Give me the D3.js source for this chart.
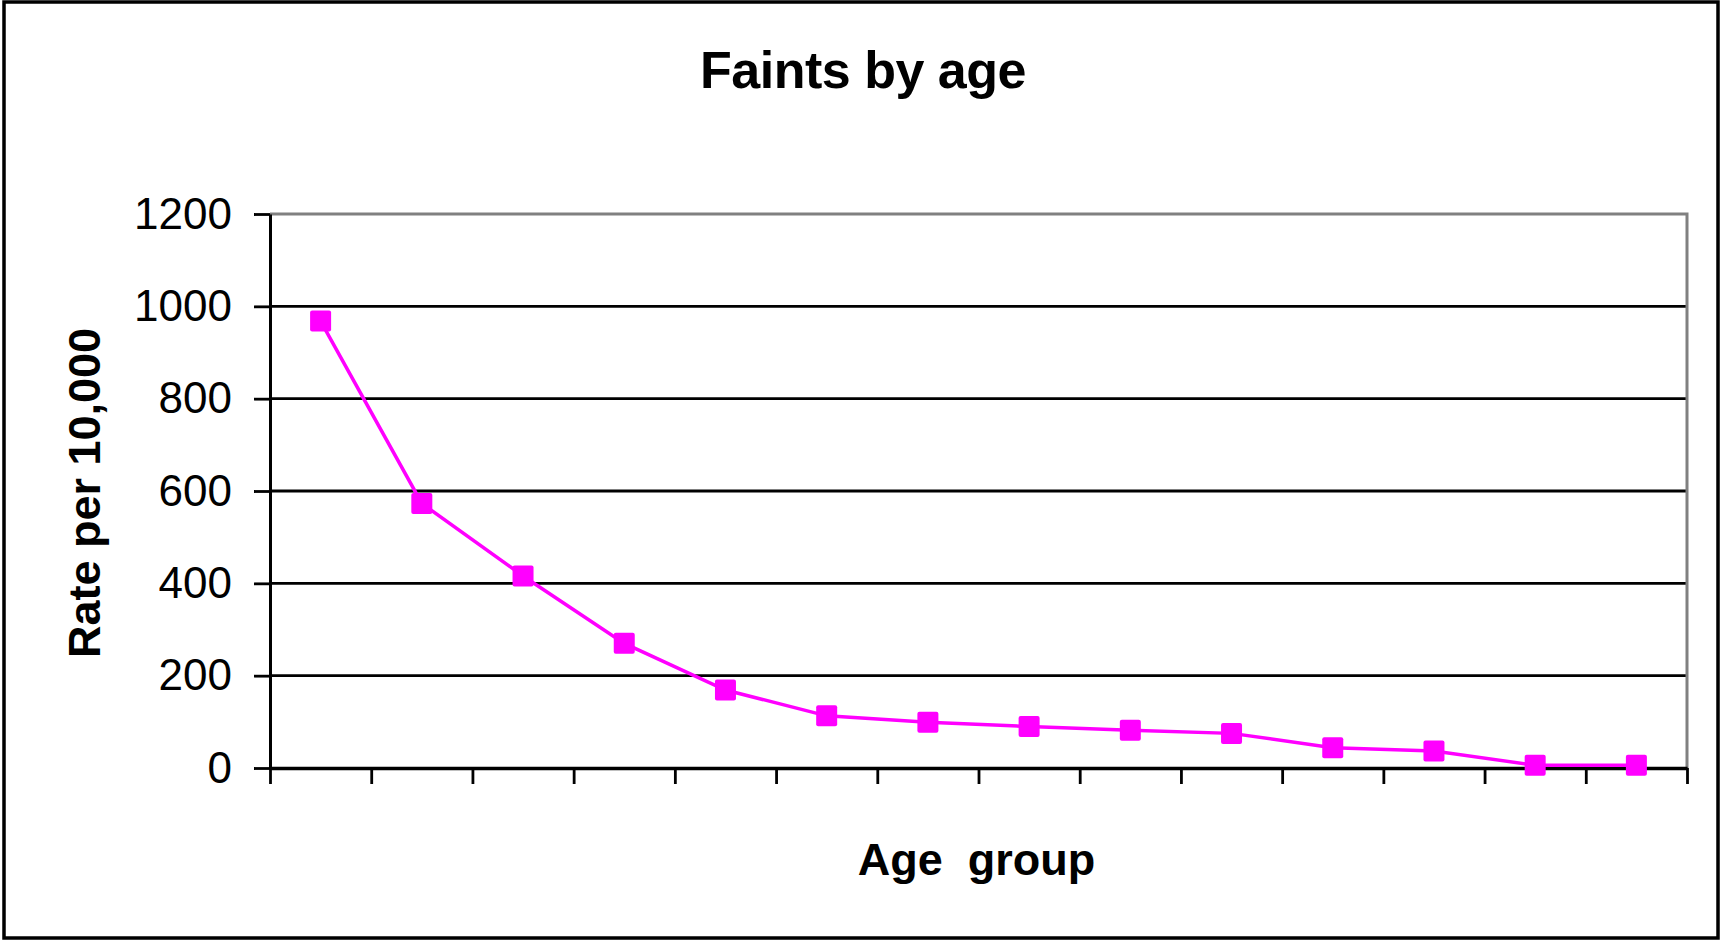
<!DOCTYPE html>
<html>
<head>
    <title>Faints by age</title>
    <meta charset="utf-8">
    <script src="https://d3js.org/d3.v7.min.js"></script>
    <style>
        body { margin: 0; background: #fff; }
        text { font-family: "Liberation Sans", Arial, sans-serif; fill: #000; }
    </style>
</head>
<body>
<div class="chart-area"></div>
<script type="text/javascript">
    // age groups (no labels shown on the axis)
    var ageGroups = ["1", "2", "3", "4", "5", "6", "7", "8", "9", "10", "11", "12", "13", "14"];
    var rates = [968, 573, 416, 270, 169, 113, 99, 90, 82, 75, 44, 37, 6, 6];
    var yTicks = [0, 200, 400, 600, 800, 1000, 1200];

    var W = 1720, H = 940;
    var margin = { left: 270, right: 33, top: 214, bottom: 172 };
    var width = W - margin.left - margin.right,
        height = H - margin.top - margin.bottom;

    var svg = d3.select(".chart-area")
        .append("svg")
        .attr("width", W)
        .attr("height", H);

    svg.append("rect")
        .attr("x", 0).attr("y", 0)
        .attr("width", W).attr("height", H)
        .attr("fill", "#fff");

    // outer frame
    svg.append("rect")
        .attr("x", 4).attr("y", 2)
        .attr("width", W - 6).attr("height", H - 4)
        .attr("fill", "none")
        .attr("stroke", "#000")
        .attr("stroke-width", 3.5);

    var g = svg.append("g")
        .attr("transform", "translate(" + margin.left + "," + margin.top + ")");

    var xScale = d3.scaleBand()
        .domain(ageGroups)
        .range([0, width]);

    var xEdge = d3.scaleLinear()
        .domain([0, ageGroups.length])
        .range([0, width]);

    var yScale = d3.scaleLinear()
        .domain([0, 1200])
        .range([height, 0]);

    // gridlines
    g.append("g")
        .selectAll("line")
        .data(yTicks.filter(function(d){ return d > 0 && d < 1200; }))
        .enter()
        .append("line")
        .attr("x1", 0).attr("x2", width)
        .attr("y1", function(d){ return yScale(d); })
        .attr("y2", function(d){ return yScale(d); })
        .attr("stroke", "#000")
        .attr("stroke-width", 2.8);

    // plot area top / right border (grey)
    g.append("path")
        .attr("d", "M0," + yScale(1200) + "H" + width + "V" + yScale(0))
        .attr("fill", "none")
        .attr("stroke", "#808080")
        .attr("stroke-width", 3);

    // y axis
    var yAxis = g.append("g")
        .call(d3.axisLeft(yScale).tickValues(yTicks).tickFormat(d3.format("d"))
            .tickSize(16).tickSizeOuter(0).tickPadding(22));
    yAxis.select(".domain").attr("stroke", "#000").attr("stroke-width", 3);
    yAxis.selectAll(".tick line").attr("stroke", "#000").attr("stroke-width", 2.8);
    yAxis.selectAll("text")
        .style("font-family", "'Liberation Sans', Arial, sans-serif")
        .attr("font-size", "44px")
        .attr("fill", "#000");

    // x axis (ticks at group boundaries, no labels)
    var xAxis = g.append("g")
        .attr("transform", "translate(0," + height + ")")
        .call(d3.axisBottom(xEdge).tickValues(d3.range(ageGroups.length + 1)).tickFormat("").tickSize(16).tickSizeOuter(0));
    xAxis.select(".domain").attr("stroke", "#000").attr("stroke-width", 3.5);
    xAxis.selectAll(".tick line").attr("stroke", "#000").attr("stroke-width", 2.8);

    // series line
    var line = d3.line()
        .x(function(d, i){ return xScale(ageGroups[i]) + xScale.bandwidth() / 2; })
        .y(function(d){ return yScale(d); });

    g.append("path")
        .datum(rates)
        .attr("d", line)
        .attr("fill", "none")
        .attr("stroke", "#FF00FF")
        .attr("stroke-width", 3.5);

    var ms = 21;
    g.selectAll(".marker")
        .data(rates)
        .enter()
        .append("rect")
        .attr("class", "marker")
        .attr("x", function(d, i){ return xScale(ageGroups[i]) + xScale.bandwidth() / 2 - ms / 2; })
        .attr("y", function(d){ return yScale(d) - ms / 2; })
        .attr("width", ms)
        .attr("height", ms)
        .attr("rx", 2)
        .attr("fill", "#FF00FF");

    // titles
    svg.append("text")
        .attr("x", 863)
        .attr("y", 88)
        .attr("text-anchor", "middle")
        .attr("font-size", "52px")
        .attr("font-weight", "bold")
        .attr("letter-spacing", "-0.5px")
        .text("Faints by age");

    svg.append("text")
        .attr("transform", "translate(100," + (margin.top + height / 2 + 2) + ") rotate(-90)")
        .attr("text-anchor", "middle")
        .attr("font-size", "45px")
        .attr("font-weight", "bold")
        .text("Rate per 10,000");

    svg.append("text")
        .attr("x", margin.left + width / 2 - 2)
        .attr("y", 875)
        .attr("text-anchor", "middle")
        .attr("font-size", "45px")
        .attr("font-weight", "bold")
        .style("white-space", "pre")
        .text("Age  group");
</script>
</body>
</html>
